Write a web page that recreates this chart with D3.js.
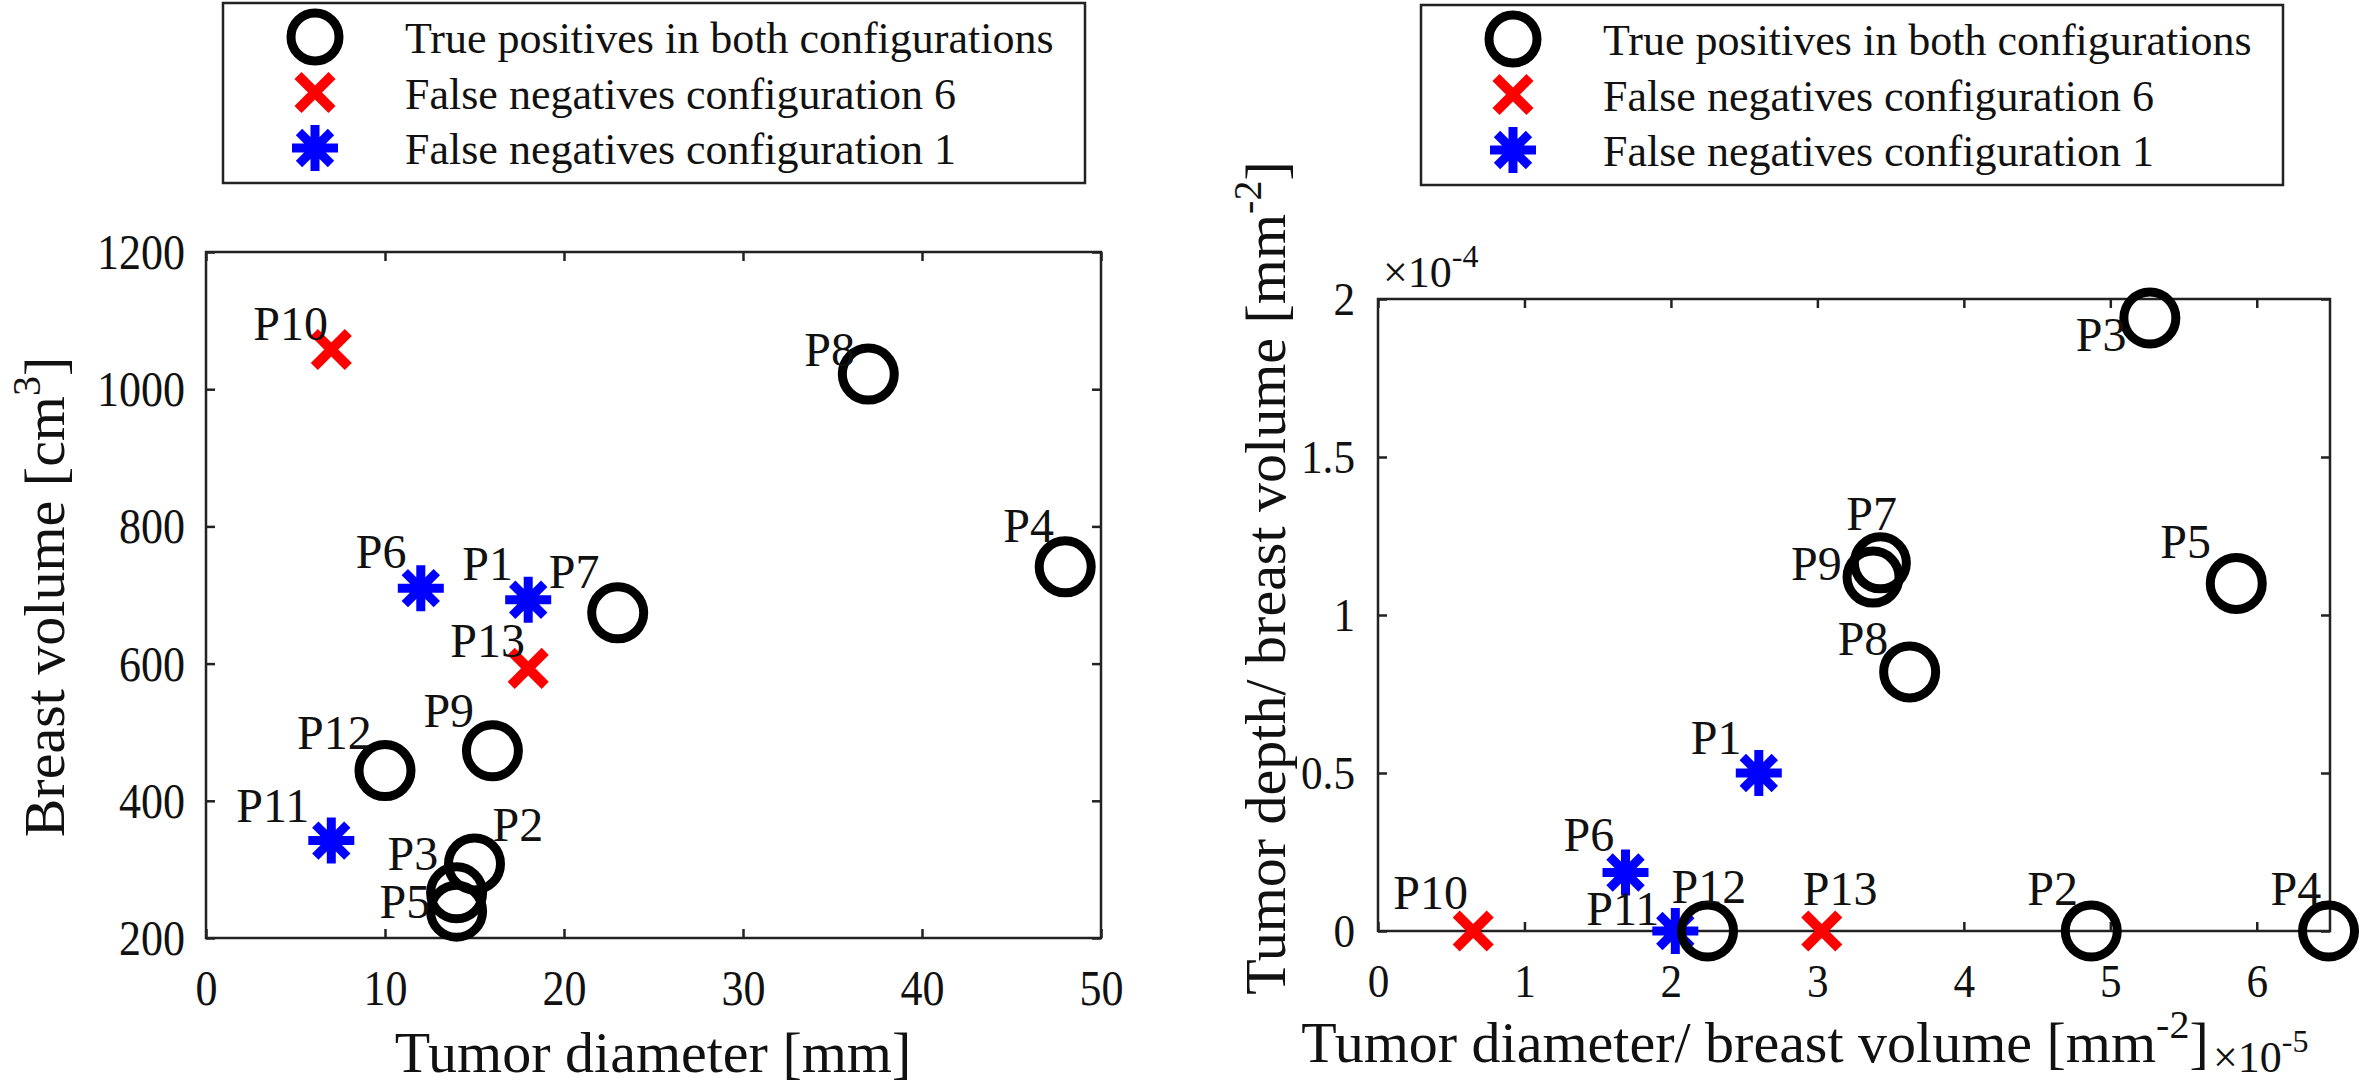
<!DOCTYPE html>
<html>
<head>
<meta charset="utf-8">
<script src="https://cdn.jsdelivr.net/npm/d3@7"></script>
<style>
  body { margin: 0; background: #fff; }
  text { font-family: 'Liberation Serif', 'Times New Roman', serif; fill: #111; }
</style>
</head>
<body>
<script>

// patients and what happened to them
const patients   = ['P1','P2','P3','P4','P5','P6','P7','P8','P9','P10','P11','P12','P13'];
const outcome    = ['fn1','tp','tp','tp','tp','fn1','tp','tp','tp','fn6','fn1','tp','fn6'];
const diameter   = [18, 15, 14, 48, 14, 12, 23, 37, 16, 7, 7, 10, 18];              // mm
const volume     = [693, 308, 266, 741, 239, 710, 674, 1022, 473, 1058, 342, 444, 593]; // cm3
const diamPerVol = [2.60e-5, 4.87e-5, 5.27e-5, 6.49e-5, 5.86e-5, 1.69e-5, 3.43e-5, 3.63e-5,
                    3.38e-5, 0.65e-5, 2.03e-5, 2.25e-5, 3.03e-5];
const depthPerVol = [0.50e-4, 0, 1.94e-4, 0, 1.10e-4, 0.185e-4, 1.165e-4, 0.82e-4,
                     1.12e-4, 0, 0, 0, 0];

const legendNames = {
    tp:  'True positives in both configurations',
    fn6: 'False negatives configuration 6',
    fn1: 'False negatives configuration 1'
};
const legendOrder = ['tp', 'fn6', 'fn1'];

const leftXTicks  = [0, 10, 20, 30, 40, 50];
const leftYTicks  = [200, 400, 600, 800, 1000, 1200];
const rightXTicks = [0, 1e-5, 2e-5, 3e-5, 4e-5, 5e-5, 6e-5];
const rightXTickLabels = ['0', '1', '2', '3', '4', '5', '6'];
const rightYTicks = [0, 0.5e-4, 1e-4, 1.5e-4, 2e-4];
const rightYTickLabels = ['0', '0.5', '1', '1.5', '2'];

// where each P-label sits relative to its marker (hand placed in the original)
const nudgeLeft = {
    P1: [-66,-20], P2: [18,-23], P3: [-69,-23], P4: [-62,-25], P5: [-77,7], P6: [-65,-20],
    P7: [-69,-25], P8: [-64,-8], P9: [-69,-24], P10: [-78,-9], P11: [-95,-19], P12: [-88,-22], P13: [-78,-11]
};
const nudgeRight = {
    P1: [-68,-19], P2: [-64,-26], P3: [-74,33], P4: [-58,-26], P5: [-76,-25], P6: [-62,-22],
    P7: [-34,-33], P8: [-72,-17], P9: [-82,3], P10: [-80,-22], P11: [-89,-6], P12: [-36,-28], P13: [-19,-26]
};

const serif = "'Liberation Serif', 'Times New Roman', serif";

const svg = d3.select('body').append('svg')
    .attr('width', 2362).attr('height', 1084)
    .style('font-family', serif);

const axisColor = '#222';

function marker(g, kind, big) {
    if (kind === 'tp') {
        g.append('circle').attr('r', big ? 26 : 24)
            .attr('fill', 'none').attr('stroke', '#000').attr('stroke-width', 9);
    } else if (kind === 'fn6') {
        g.append('path').attr('d', 'M-17,-17L17,17M-17,17L17,-17')
            .attr('fill', 'none').attr('stroke', '#ff0000').attr('stroke-width', 10);
    } else {
        g.append('path').attr('d', 'M-23,0H23M0,-23V23M-16,-16L16,16M-16,16L16,-16')
            .attr('fill', 'none').attr('stroke', '#0000ff').attr('stroke-width', 9);
    }
}

function legend(left, top) {
    let g = svg.append('g').attr('transform', `translate(${left},${top})`);
    g.append('rect').attr('width', 862).attr('height', 180)
        .attr('fill', '#fff').attr('stroke', axisColor).attr('stroke-width', 2.5);
    legendOrder.forEach((k, i) => {
        let row = g.append('g').attr('transform', `translate(92,${34 + i * 55.5})`);
        marker(row, k, false);
        row.append('text').attr('x', 90).attr('y', 16)
            .style('font-family', serif).style('font-size', '44px').text(legendNames[k]);
    });
}

// MATLAB export squeezes the tick numbers a little horizontally
function frame(x, y, xTicks, xFmt, yTicks, yFmt, opt) {
    let g = svg.append('g');
    let [x0, x1] = x.range(), [y1, y0] = y.range();
    let sq = opt.squeeze;

    let bottom = g.append('g').attr('transform', `translate(0,${y1})`)
        .call(d3.axisBottom(x).tickValues(xTicks).tickFormat(xFmt).tickSize(-9).tickSizeOuter(0));
    bottom.selectAll('text').attr('dy', null).attr('y', opt.xLabelY)
        .attr('transform', `scale(${sq},1)`).style('font-size', opt.font);

    let left = g.append('g').attr('transform', `translate(${x0},0)`)
        .call(d3.axisLeft(y).tickValues(yTicks).tickFormat(yFmt).tickSize(-9).tickSizeOuter(0));
    left.selectAll('text').attr('x', -opt.yPad / sq).attr('dy', '0.33em')
        .attr('transform', `scale(${sq},1)`).style('font-size', opt.font);

    g.append('g').attr('transform', `translate(0,${y0})`)
        .call(d3.axisTop(x).tickValues(xTicks).tickFormat('').tickSize(-9).tickSizeOuter(0));
    g.append('g').attr('transform', `translate(${x1},0)`)
        .call(d3.axisRight(y).tickValues(yTicks).tickFormat('').tickSize(-9).tickSizeOuter(0));

    g.selectAll('g').attr('font-family', serif);
    g.selectAll('.domain').remove();
    g.selectAll('.tick line').attr('stroke', axisColor).attr('stroke-width', 2.5);
    g.selectAll('.tick text').attr('fill', '#111').style('font-family', serif);

    g.append('rect').attr('x', x0).attr('y', y0)
        .attr('width', x1 - x0).attr('height', y1 - y0)
        .attr('fill', 'none').attr('stroke', axisColor).attr('stroke-width', 2.5);
}

function points(xs, ys, x, y, nudge) {
    let g = svg.append('g');
    patients.forEach((p, i) => {
        let m = g.append('g').attr('transform', `translate(${x(xs[i])},${y(ys[i])})`);
        marker(m, outcome[i], true);
    });
    patients.forEach((p, i) => {
        g.append('text')
            .attr('x', x(xs[i]) + nudge[p][0])
            .attr('y', y(ys[i]) + nudge[p][1])
            .style('font-size', '48px')
            .text(p);
    });
}

function supText(sel, parts, size, sup, rise) {
    sel.append('tspan').text(parts[0]);
    sel.append('tspan').attr('dy', -rise).style('font-size', sup + 'px').text(parts[1]);
    if (parts[2]) sel.append('tspan').attr('dy', rise).style('font-size', size + 'px').text(parts[2]);
}

// ---------- left panel ----------
let xL = d3.scaleLinear().domain([0, 50]).range([206, 1101]);
let yL = d3.scaleLinear().domain([200, 1200]).range([938, 252]);

frame(xL, yL, leftXTicks, d3.format('d'), leftYTicks, d3.format('d'),
      {xLabelY: 67, yPad: 21, font: '50px', squeeze: 0.88});
points(diameter, volume, xL, yL, nudgeLeft);

svg.append('text').attr('x', 653).attr('y', 1072).attr('text-anchor', 'middle')
    .style('font-size', '58px').text('Tumor diameter [mm]');
supText(svg.append('text').attr('text-anchor', 'middle')
        .attr('transform', 'translate(64,597) rotate(-90)').style('font-size', '58px'),
        ['Breast volume [cm', '3', ']'], 58, 40, 24);

legend(223, 3);

// ---------- right panel ----------
let xR = d3.scaleLinear().domain([0, 6.5e-5]).range([1378, 2330]);
let yR = d3.scaleLinear().domain([0, 2e-4]).range([931, 299]);

frame(xR, yR, rightXTicks, (d, i) => rightXTickLabels[i], rightYTicks, (d, i) => rightYTickLabels[i],
      {xLabelY: 66, yPad: 23, font: '47px', squeeze: 0.92});
points(diamPerVol, depthPerVol, xR, yR, nudgeRight);

supText(svg.append('text').attr('x', 1383).attr('y', 287).style('font-size', '44px'),
        ['\u00d710', '-4'], 44, 32, 20);

supText(svg.append('text').attr('x', 1755).attr('y', 1062).attr('text-anchor', 'middle')
        .style('font-size', '58px'),
        ['Tumor diameter/ breast volume [mm', '-2', ']'], 58, 40, 24);
supText(svg.append('text').attr('x', 2213).attr('y', 1072).style('font-size', '44px'),
        ['\u00d710', '-5'], 44, 32, 20);
supText(svg.append('text').attr('text-anchor', 'middle')
        .attr('transform', 'translate(1285,578) rotate(-90)').style('font-size', '58px'),
        ['Tumor depth/ breast volume [mm', '-2', ']'], 58, 40, 24);

legend(1421, 5);

</script>
</body>
</html>
